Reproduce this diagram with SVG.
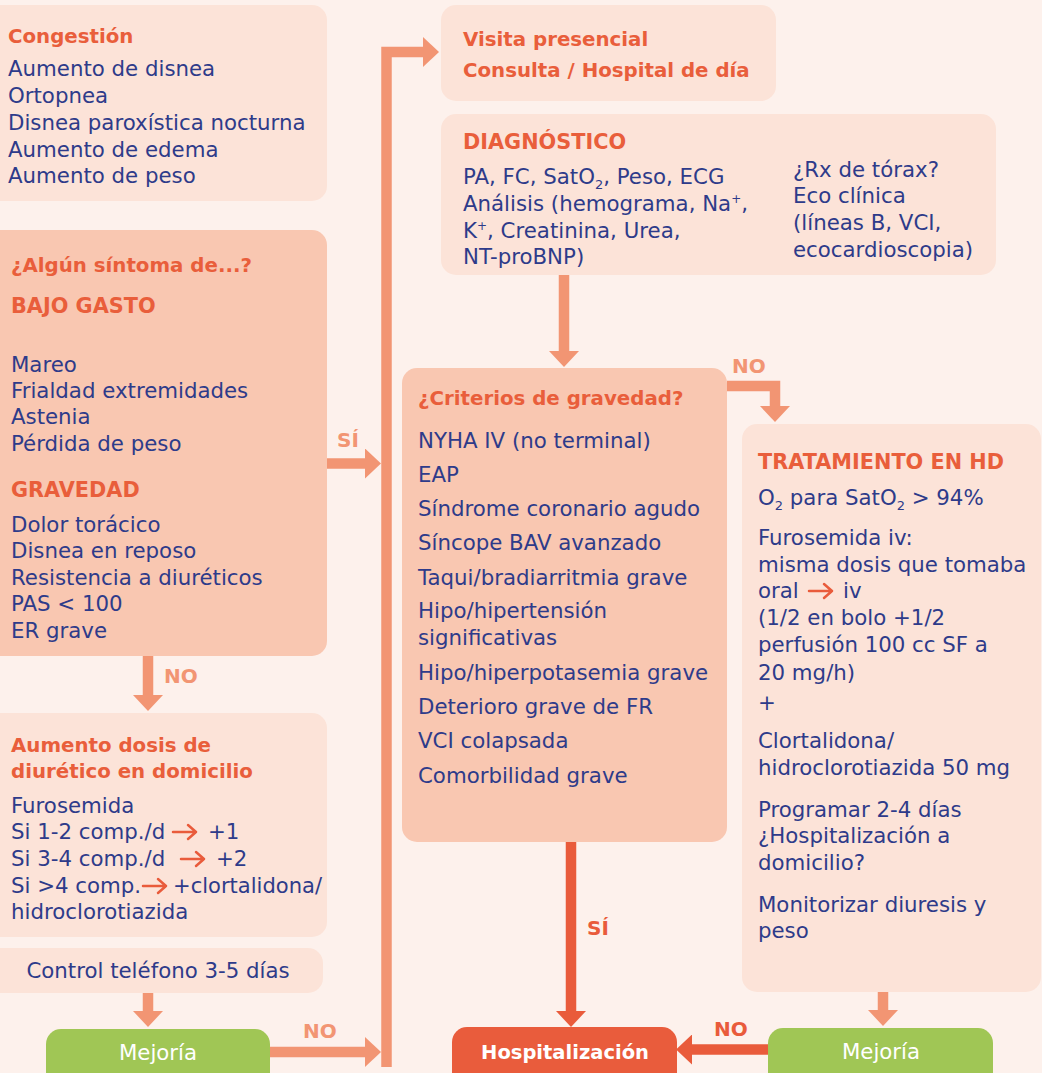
<svg xmlns="http://www.w3.org/2000/svg" width="1042" height="1073" viewBox="0 0 1042 1073">
  <defs>
    <style>
      text { font-family: 'DejaVu Sans', 'Liberation Sans', sans-serif; }
      .bg { fill: #FDF1EC; }
      .box-l { fill: #FCE3D8; }
      .box-m { fill: #F9C7B1; }
      .ttl { font-weight: bold; font-size: 19.8px; fill: #E95E3B; }
      .cap { font-weight: bold; font-size: 20.8px; fill: #E95E3B; }
      .txt { font-size: 21.3px; fill: #2E3B8A; }
      .sub { font-size: 13px; }
      .sup { font-size: 12px; }
      .lbl-s { font-weight: bold; font-size: 20px; fill: #F29573; }
      .lbl-d { font-weight: bold; font-size: 20px; fill: #E95B3B; }
      .conn { fill: none; stroke: #F29573; stroke-width: 10.5; stroke-linejoin: miter; }
      .conn-d { fill: none; stroke: #E95B3B; stroke-width: 10.5; }
      .ico { fill: none; stroke: #E95B3B; stroke-width: 2.5; stroke-linecap: round; stroke-linejoin: round; }
      .ok { fill: #A0C655; }
      .hosp { fill: #E95C3C; }
      .white { fill: #FFFFFF; font-size: 21.3px; }
      .white-b { fill: #FFFFFF; font-size: 19.5px; font-weight: bold; }
    </style>
    <marker id="head" markerUnits="userSpaceOnUse" viewBox="0 0 16 30" refX="0" refY="15" markerWidth="16" markerHeight="30" orient="auto">
      <path d="M0,0 L16,15 L0,30 Z" fill="#F29573"/>
    </marker>
    <marker id="head-d" markerUnits="userSpaceOnUse" viewBox="0 0 16 30" refX="0" refY="15" markerWidth="16" markerHeight="30" orient="auto">
      <path d="M0,0 L16,15 L0,30 Z" fill="#E95B3B"/>
    </marker>
  </defs>

  <rect class="bg" x="0" y="0" width="1042" height="1073"/>

  <!-- connectors -->
  <g id="connectors">
    <path class="conn" d="M270,1052 H365" marker-end="url(#head)"/>
    <path class="conn" d="M386.5,1067 V52 H423" marker-end="url(#head)"/>
    <path class="conn" d="M327,463.5 H365" marker-end="url(#head)"/>
    <path class="conn" d="M148,656 V695" marker-end="url(#head)"/>
    <path class="conn" d="M148,993 V1011" marker-end="url(#head)"/>
    <path class="conn" d="M564,275 V351" marker-end="url(#head)"/>
    <path class="conn" d="M727,386 H775 V406" marker-end="url(#head)"/>
    <path class="conn-d" d="M571,842 V1011" marker-end="url(#head-d)"/>
    <path class="conn" d="M883,992 V1010" marker-end="url(#head)"/>
    <path class="conn-d" d="M768,1049.5 H692" marker-end="url(#head-d)"/>

    <text class="lbl-s" x="337" y="447">SÍ</text>
    <text class="lbl-s" x="164" y="683">NO</text>
    <text class="lbl-s" x="303" y="1038">NO</text>
    <text class="lbl-s" x="732" y="373">NO</text>
    <text class="lbl-d" x="587" y="935">SÍ</text>
    <text class="lbl-d" x="714" y="1036">NO</text>
  </g>

  <!-- congestion signs -->
  <g id="congestion">
    <rect class="box-l" x="-20" y="5" width="347" height="196" rx="15"/>
    <text class="ttl" x="8" y="43">Congestión</text>
    <text class="txt" x="8" y="76">Aumento de disnea</text>
    <text class="txt" x="8" y="103">Ortopnea</text>
    <text class="txt" x="8" y="130">Disnea paroxística nocturna</text>
    <text class="txt" x="8" y="157">Aumento de edema</text>
    <text class="txt" x="8" y="183">Aumento de peso</text>
  </g>

  <!-- warning symptoms -->
  <g id="symptoms">
    <rect class="box-m" x="-20" y="230" width="347" height="426" rx="15"/>
    <text class="ttl" x="11" y="272">¿Algún síntoma de...?</text>
    <text class="cap" x="11" y="313">BAJO GASTO</text>
    <text class="txt" x="11" y="372">Mareo</text>
    <text class="txt" x="11" y="398">Frialdad extremidades</text>
    <text class="txt" x="11" y="424">Astenia</text>
    <text class="txt" x="11" y="451">Pérdida de peso</text>
    <text class="cap" x="11" y="497">GRAVEDAD</text>
    <text class="txt" x="11" y="532">Dolor torácico</text>
    <text class="txt" x="11" y="558">Disnea en reposo</text>
    <text class="txt" x="11" y="585">Resistencia a diuréticos</text>
    <text class="txt" x="11" y="611">PAS &lt; 100</text>
    <text class="txt" x="11" y="638">ER grave</text>
  </g>

  <!-- home diuretic increase -->
  <g id="home-dose">
    <rect class="box-l" x="-20" y="713" width="347" height="224" rx="15"/>
    <text class="ttl" x="11" y="752">Aumento dosis de</text>
    <text class="ttl" x="11" y="778">diurético en domicilio</text>
    <text class="txt" x="11" y="813">Furosemida</text>
    <text class="txt" x="11" y="839">Si 1-2 comp./d</text>
    <path class="ico" d="M173,832 H196 M188,825 L196,832 L188,839"/>
    <text class="txt" x="208" y="839">+1</text>
    <text class="txt" x="11" y="866">Si 3-4 comp./d</text>
    <path class="ico" d="M181,859 H204 M196,852 L204,859 L196,866"/>
    <text class="txt" x="216" y="866">+2</text>
    <text class="txt" x="11" y="893">Si &gt;4 comp.</text>
    <path class="ico" d="M143,886 H166 M158,879 L166,886 L158,893"/>
    <text class="txt" x="173" y="893" textLength="149" lengthAdjust="spacingAndGlyphs">+clortalidona/</text>
    <text class="txt" x="11" y="919">hidroclorotiazida</text>
  </g>

  <!-- phone follow-up -->
  <g id="phone">
    <rect class="box-l" x="-20" y="948" width="343" height="45" rx="15"/>
    <text class="txt" x="158" y="978" text-anchor="middle">Control teléfono 3-5 días</text>
  </g>

  <!-- improvement (home) -->
  <g id="improve-home">
    <rect class="ok" x="46" y="1029" width="224" height="70" rx="15"/>
    <text class="white" x="158" y="1060" text-anchor="middle">Mejoría</text>
  </g>

  <!-- in-person visit -->
  <g id="visit">
    <rect class="box-l" x="441" y="5" width="335" height="96" rx="15"/>
    <text class="ttl" x="463" y="46">Visita presencial</text>
    <text class="ttl" x="463" y="77">Consulta / Hospital de día</text>
  </g>

  <!-- diagnosis -->
  <g id="diagnosis">
    <rect class="box-l" x="441" y="114" width="555" height="161" rx="15"/>
    <text class="cap" x="463" y="149">DIAGNÓSTICO</text>
    <text class="txt" x="463" y="184">PA, FC, SatO<tspan class="sub" dy="5">2</tspan><tspan dy="-5">, Peso, ECG</tspan></text>
    <text class="txt" x="463" y="211">Análisis (hemograma, Na<tspan class="sup" dy="-8">+</tspan><tspan dy="8">,</tspan></text>
    <text class="txt" x="463" y="238">K<tspan class="sup" dy="-8">+</tspan><tspan dy="8">, Creatinina, Urea,</tspan></text>
    <text class="txt" x="463" y="264">NT-proBNP)</text>
    <text class="txt" x="793" y="177">¿Rx de tórax?</text>
    <text class="txt" x="793" y="203">Eco clínica</text>
    <text class="txt" x="793" y="230">(líneas B, VCI,</text>
    <text class="txt" x="793" y="257">ecocardioscopia)</text>
  </g>

  <!-- severity criteria -->
  <g id="severity">
    <rect class="box-m" x="402" y="368" width="325" height="474" rx="15"/>
    <text class="ttl" x="418" y="405">¿Criterios de gravedad?</text>
    <text class="txt" x="418" y="448">NYHA IV (no terminal)</text>
    <text class="txt" x="418" y="482">EAP</text>
    <text class="txt" x="418" y="516">Síndrome coronario agudo</text>
    <text class="txt" x="418" y="550">Síncope BAV avanzado</text>
    <text class="txt" x="418" y="585">Taqui/bradiarritmia grave</text>
    <text class="txt" x="418" y="618">Hipo/hipertensión</text>
    <text class="txt" x="418" y="645">significativas</text>
    <text class="txt" x="418" y="680">Hipo/hiperpotasemia grave</text>
    <text class="txt" x="418" y="714">Deterioro grave de FR</text>
    <text class="txt" x="418" y="748">VCI colapsada</text>
    <text class="txt" x="418" y="783">Comorbilidad grave</text>
  </g>

  <!-- day-hospital treatment -->
  <g id="treatment">
    <rect class="box-l" x="742" y="424" width="299" height="568" rx="15"/>
    <text class="cap" x="758" y="469">TRATAMIENTO EN HD</text>
    <text class="txt" x="758" y="505">O<tspan class="sub" dy="5">2</tspan><tspan dy="-5"> para SatO</tspan><tspan class="sub" dy="5">2</tspan><tspan dy="-5"> &gt; 94%</tspan></text>
    <text class="txt" x="758" y="545">Furosemida iv:</text>
    <text class="txt" x="758" y="572">misma dosis que tomaba</text>
    <text class="txt" x="758" y="598">oral</text>
    <path class="ico" d="M809,591 H832 M824,584 L832,591 L824,598"/>
    <text class="txt" x="843" y="598">iv</text>
    <text class="txt" x="758" y="625">(1/2 en bolo +1/2</text>
    <text class="txt" x="758" y="652">perfusión 100 cc SF a</text>
    <text class="txt" x="758" y="680">20 mg/h)</text>
    <text class="txt" x="758" y="710">+</text>
    <text class="txt" x="758" y="748">Clortalidona/</text>
    <text class="txt" x="758" y="775">hidroclorotiazida 50 mg</text>
    <text class="txt" x="758" y="817">Programar 2-4 días</text>
    <text class="txt" x="758" y="843">¿Hospitalización a</text>
    <text class="txt" x="758" y="870">domicilio?</text>
    <text class="txt" x="758" y="912">Monitorizar diuresis y</text>
    <text class="txt" x="758" y="938">peso</text>
  </g>

  <!-- hospital admission -->
  <g id="admission">
    <rect class="hosp" x="452" y="1027" width="225" height="70" rx="15"/>
    <text class="white-b" x="565" y="1059" text-anchor="middle">Hospitalización</text>
  </g>

  <!-- improvement (day hospital) -->
  <g id="improve-hd">
    <rect class="ok" x="768" y="1028" width="225" height="70" rx="15"/>
    <text class="white" x="881" y="1059" text-anchor="middle">Mejoría</text>
  </g>
</svg>
